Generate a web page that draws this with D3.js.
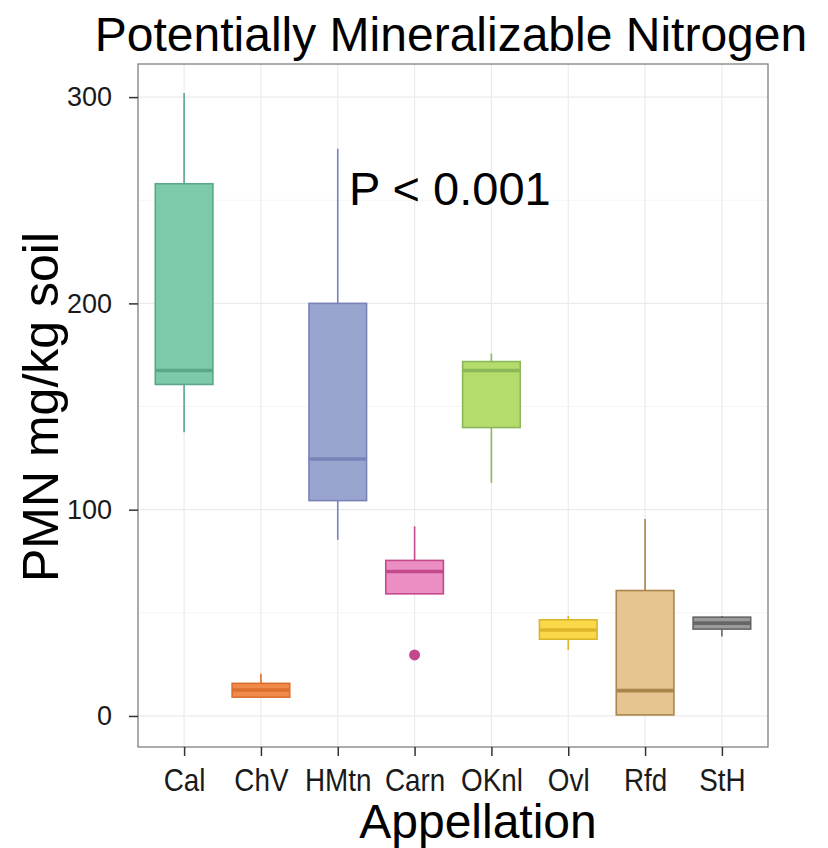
<!DOCTYPE html>
<html>
<head>
<meta charset="utf-8">
<script src="https://cdn.jsdelivr.net/npm/d3@7"></script>
<style>
  html, body { margin: 0; padding: 0; background: #fff; }
  svg { display: block; font-family: "Liberation Sans", Arial, sans-serif; }
</style>
</head>
<body>
<svg id="chart" width="828" height="848"></svg>
<script>
// ---- data ----
const categories = ["Cal", "ChV", "HMtn", "Carn", "OKnl", "Ovl", "Rfd", "StH"];
const whiskerLow  = [137.5,   9.1,  85.4,  59.2, 113.0, 32.0,  0.5, 38.5];
const q1Values    = [160.7,   9.1, 104.4,  59.2, 139.8, 37.2,  0.5, 42.1];
const medianVals  = [167.5,  12.6, 124.6,  70.0, 167.5, 41.7, 12.3, 45.0];
const q3Values    = [258.0,  15.8, 200.0,  75.4, 171.8, 46.6, 60.8, 47.9];
const whiskerHigh = [302.0,  20.4, 275.0,  91.9, 175.7, 48.5, 95.5, 48.5];
const outliers    = [{cat: "Carn", value: 29.6}];
const yTicks = [0, 100, 200, 300];
const yMinor = [50, 150, 250];
const fillColors   = ["#7ccaa9", "#f08a4b", "#99a4cf", "#ea8ec4", "#b4dc6c", "#fad84a", "#e7c592", "#9b9b9b"];
const strokeColors = ["#5aa78a", "#dc6f2e", "#7a83b8", "#c4498c", "#8cb85a", "#dcb52a", "#a88548", "#666666"];

const svg = d3.select("#chart");
const panel = {left: 138, right: 768, top: 64, bottom: 747};

const x = d3.scalePoint().domain(categories).range([panel.left, panel.right]).padding(0.6);
const y = d3.scaleLinear().domain([-15.05, 316.05]).range([panel.bottom, panel.top]);
const boxW = x.step() * 0.75;

// panel background
svg.append("rect").attr("x", panel.left).attr("y", panel.top)
  .attr("width", panel.right - panel.left).attr("height", panel.bottom - panel.top)
  .attr("fill", "#fff");

// minor grid
svg.append("g").selectAll("line").data(yMinor).join("line")
  .attr("x1", panel.left).attr("x2", panel.right)
  .attr("y1", d => y(d)).attr("y2", d => y(d))
  .attr("stroke", "#f5f5f5").attr("stroke-width", 1);
// major grid
svg.append("g").selectAll("line").data(yTicks).join("line")
  .attr("x1", panel.left).attr("x2", panel.right)
  .attr("y1", d => y(d)).attr("y2", d => y(d))
  .attr("stroke", "#ebebeb").attr("stroke-width", 1.2);
svg.append("g").selectAll("line").data(categories).join("line")
  .attr("x1", d => x(d)).attr("x2", d => x(d))
  .attr("y1", panel.top).attr("y2", panel.bottom)
  .attr("stroke", "#ebebeb").attr("stroke-width", 1.2);

// boxes
const rows = categories.map((c, i) => ({
  cat: c, lo: whiskerLow[i], q1: q1Values[i], med: medianVals[i], q3: q3Values[i], hi: whiskerHigh[i],
  fill: fillColors[i], stroke: strokeColors[i]
}));
const g = svg.append("g");
const bx = g.selectAll("g.box").data(rows).join("g").attr("class", "box");
bx.append("line")
  .attr("x1", d => x(d.cat)).attr("x2", d => x(d.cat))
  .attr("y1", d => y(d.q3)).attr("y2", d => y(d.hi))
  .attr("stroke", d => d.stroke).attr("stroke-width", 1.6);
bx.append("line")
  .attr("x1", d => x(d.cat)).attr("x2", d => x(d.cat))
  .attr("y1", d => y(d.q1)).attr("y2", d => y(d.lo))
  .attr("stroke", d => d.stroke).attr("stroke-width", 1.6);
bx.append("rect")
  .attr("x", d => x(d.cat) - boxW / 2).attr("width", boxW)
  .attr("y", d => y(d.q3)).attr("height", d => y(d.q1) - y(d.q3))
  .attr("fill", d => d.fill).attr("stroke", d => d.stroke).attr("stroke-width", 1.6);
bx.append("line")
  .attr("x1", d => x(d.cat) - boxW / 2).attr("x2", d => x(d.cat) + boxW / 2)
  .attr("y1", d => y(d.med)).attr("y2", d => y(d.med))
  .attr("stroke", d => d.stroke).attr("stroke-width", 3.6);

// outliers
g.selectAll("circle").data(outliers).join("circle")
  .attr("cx", d => x(d.cat)).attr("cy", d => y(d.value)).attr("r", 5.5)
  .attr("fill", d => strokeColors[categories.indexOf(d.cat)]);

// panel border
svg.append("rect").attr("x", panel.left).attr("y", panel.top)
  .attr("width", panel.right - panel.left).attr("height", panel.bottom - panel.top)
  .attr("fill", "none").attr("stroke", "#808080").attr("stroke-width", 1.3);

// axes
const yAxis = svg.append("g").attr("transform", `translate(${panel.left},0)`)
  .call(d3.axisLeft(y).tickValues(yTicks).tickSize(9).tickPadding(17));
yAxis.select(".domain").remove();
yAxis.selectAll("line").attr("stroke", "#333").attr("stroke-width", 1.5);
yAxis.selectAll("text").attr("font-size", 27).attr("fill", "#1a1a1a")
  .attr("font-family", "Liberation Sans, Arial, sans-serif");

const xAxis = svg.append("g").attr("transform", `translate(0,${panel.bottom})`)
  .call(d3.axisBottom(x).tickSize(9).tickPadding(12));
xAxis.select(".domain").remove();
xAxis.selectAll("line").attr("stroke", "#333").attr("stroke-width", 1.5);
xAxis.selectAll("text").attr("font-size", 32).attr("fill", "#1a1a1a")
  .attr("transform", "scale(0.87,1)")
  .attr("font-family", "Liberation Sans, Arial, sans-serif");

// titles
svg.append("text").attr("x", 451).attr("y", 51).attr("text-anchor", "middle")
  .attr("font-size", 48).attr("fill", "#000").text("Potentially Mineralizable Nitrogen");
svg.append("text").attr("x", 478).attr("y", 838).attr("text-anchor", "middle")
  .attr("font-size", 48).attr("fill", "#000").text("Appellation");
svg.append("text").attr("transform", "translate(58,407) rotate(-90)").attr("text-anchor", "middle")
  .attr("font-size", 50).attr("fill", "#000").text("PMN mg/kg soil");

// annotation
svg.append("text").attr("x", 349).attr("y", 205)
  .attr("font-size", 47).attr("fill", "#000").text("P < 0.001");
</script>
</body>
</html>
